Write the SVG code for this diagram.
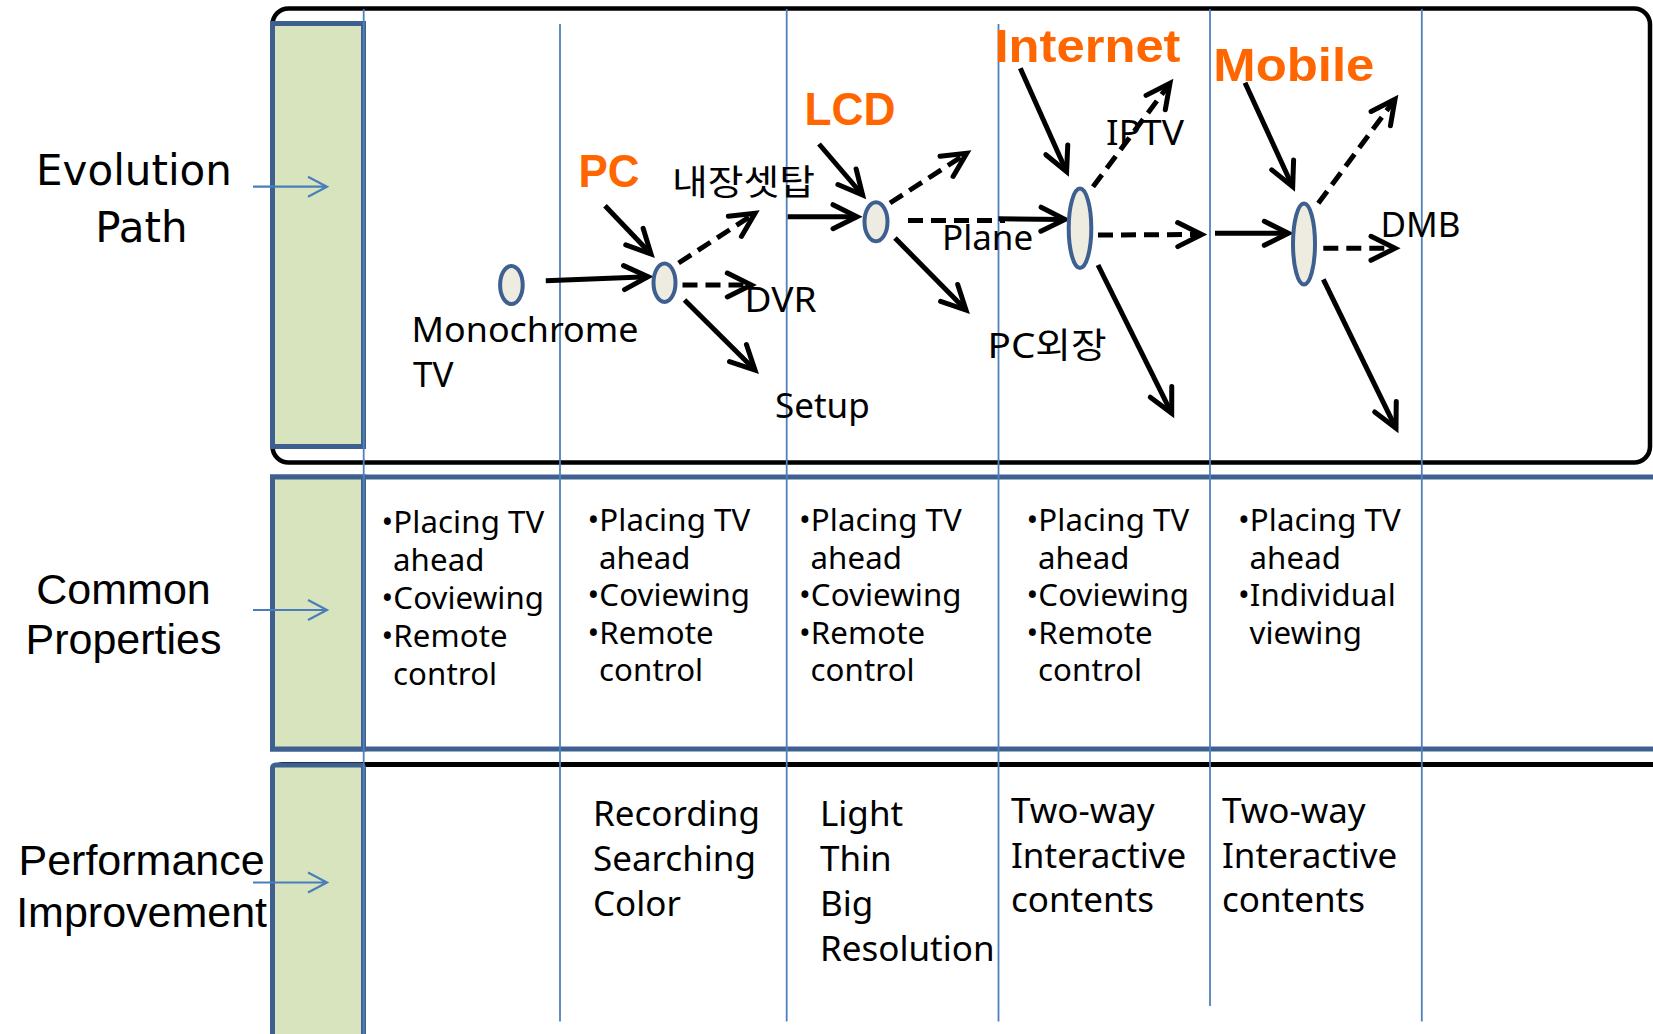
<svg xmlns="http://www.w3.org/2000/svg" width="1653" height="1034" viewBox="0 0 1653 1034">
<defs>
<style>
.frameB{fill:none;stroke:#000;stroke-width:4.5}
.frameU{fill:none;stroke:#3E6090;stroke-width:5}
.green{fill:#D7E4BD;stroke:#3E6090;stroke-width:5}
.vl{stroke:#4F81BD;stroke-width:1.8;fill:none}
.side{font-family:"Liberation Sans",Arial,sans-serif;font-size:43px;fill:#000}
.evo{font-family:"DejaVu Sans",sans-serif;font-size:42px;fill:#000}
.sarr{stroke:#4A7EBB;stroke-width:2.2;fill:none}
.lbl{font-family:"Noto Sans","Noto Sans CJK KR",sans-serif;font-size:35px;fill:#000}
.bul{font-family:"Noto Sans",sans-serif;font-size:31.2px;letter-spacing:0.1px;fill:#000}
.org{font-family:"Liberation Sans",Arial,sans-serif;font-weight:bold;font-size:47px;fill:#FF6600}
.node{fill:#EEECE1;stroke:#3E6090;stroke-width:4}
.sa{fill:none;stroke:#000;stroke-width:5;marker-end:url(#ah)}
.da{fill:none;stroke:#000;stroke-width:5;stroke-dasharray:15 8;marker-end:url(#ah)}
.dn{fill:none;stroke:#000;stroke-width:5;stroke-dasharray:15 8}
</style>
<marker id="ah" markerUnits="userSpaceOnUse" markerWidth="40" markerHeight="40" refX="0" refY="0" orient="auto" overflow="visible">
<path d="M-24,-12 L0,0 L-24,12" fill="none" stroke="#000" stroke-width="5" stroke-dasharray="none" stroke-linecap="round" stroke-linejoin="miter"/>
</marker>
</defs>
<rect width="1653" height="1034" fill="#fff"/>

<g id="row-evolution">
<rect class="frameB" x="272.5" y="8.5" width="1377.5" height="454" rx="16"/>
<rect class="green" x="272.5" y="23.5" width="91" height="423"/>
<text class="evo" text-anchor="middle"><tspan x="134" y="185">Evolution</tspan><tspan x="141.5" y="241.7">Path</tspan></text>
<path class="sarr" d="M253,186.7 L327,186.7 M308,176.7 L327,186.7 L308,196.7"/>
</g>

<g id="row-common">
<rect class="frameU" x="272.5" y="477" width="1450" height="272"/>
<rect class="green" x="272.5" y="477" width="91" height="272"/>
<text class="side" text-anchor="middle"><tspan x="123.5" y="603.5">Common</tspan><tspan x="123.5" y="653.5">Properties</tspan></text>
<path class="sarr" d="M253,610 L327,610 M308,600 L327,610 L308,620"/>
</g>

<g id="row-performance">
<rect class="frameB" x="272.5" y="764.5" width="1450" height="400" rx="10" style="stroke-width:5"/>
<rect class="green" x="272.5" y="765" width="91" height="320" rx="3"/>
<text class="side" text-anchor="middle"><tspan x="141.6" y="875">Performance</tspan><tspan x="141.6" y="926.5">Improvement</tspan></text>
<path class="sarr" d="M253,882.5 L327,882.5 M308,872.5 L327,882.5 L308,892.5"/>
</g>

<g id="column-lines">
<line class="vl" x1="363.7" y1="9" x2="363.7" y2="1034"/>
<line class="vl" x1="560" y1="24" x2="560" y2="1021.5"/>
<line class="vl" x1="786.7" y1="9" x2="786.7" y2="1021.5"/>
<line class="vl" x1="998.5" y1="24" x2="998.5" y2="1021.5"/>
<line class="vl" x1="1210" y1="9" x2="1210" y2="1006"/>
<line class="vl" x1="1421.8" y1="9" x2="1421.8" y2="1021.5"/>
</g>

<g id="connectors">
<path class="sa" d="M545.8,280.7 L648,276.7"/>
<path class="sa" d="M605,205.7 L651,254"/>
<path class="da" d="M678.6,263 L755,213.3"/>
<path class="da" d="M682.5,285 L751.3,285"/>
<path class="sa" d="M684.5,300 L755,370"/>
<path class="sa" d="M787.7,216.7 L857,216.7"/>
<path class="sa" d="M819,144 L862.6,195"/>
<path class="da" d="M890,203 L966.7,153.3"/>
<path class="dn" d="M908,220.5 L1005,220.5"/>
<path class="sa" d="M998.5,218.7 L1065,219.5"/>
<path class="sa" d="M895,238 L966,310"/>
<path class="sa" d="M1020.3,68.3 L1066.6,171.7"/>
<path class="da" d="M1093,186.7 L1170,83.3"/>
<path class="da" d="M1098,235 L1201.7,234.5"/>
<path class="sa" d="M1098,265 L1171.7,413.3"/>
<path class="sa" d="M1215,233.3 L1288.3,233.3"/>
<path class="sa" d="M1245,82.7 L1292.7,186.7"/>
<path class="da" d="M1318.3,203.3 L1395,99.3"/>
<path class="da" d="M1323.3,248.3 L1395,248.3"/>
<path class="sa" d="M1323.3,279.3 L1396,428.3"/>
</g>

<g id="node-monochrome">
<ellipse class="node" cx="511.4" cy="285" rx="11.3" ry="19"/>
<text class="lbl"><tspan x="411.5" y="341.7" textLength="227" lengthAdjust="spacingAndGlyphs">Monochrome</tspan><tspan x="413" y="386.7">TV</tspan></text>
</g>
<g id="node-pc">
<ellipse class="node" cx="664.5" cy="282.7" rx="11" ry="19.2"/>
<text class="org" x="578.5" y="186.7" textLength="61" lengthAdjust="spacingAndGlyphs">PC</text>
<text class="lbl" x="672" y="195" textLength="143" lengthAdjust="spacingAndGlyphs">내장셋탑</text>
<text class="lbl" x="744.5" y="311.7" textLength="72" lengthAdjust="spacingAndGlyphs">DVR</text>
<text class="lbl" x="775" y="418.3">Setup</text>
</g>
<g id="node-lcd">
<ellipse class="node" cx="876" cy="221.7" rx="11.5" ry="19.5"/>
<text class="org" x="804.5" y="125" textLength="91" lengthAdjust="spacingAndGlyphs">LCD</text>
<text class="lbl" x="942" y="250">Plane</text>
<text class="lbl" x="987.5" y="358.3" textLength="119" lengthAdjust="spacingAndGlyphs">PC외장</text>
</g>
<g id="node-internet">
<ellipse class="node" cx="1080" cy="228.3" rx="11.3" ry="39.7"/>
<text class="org" x="994.5" y="61.7" textLength="186" lengthAdjust="spacingAndGlyphs">Internet</text>
<text class="lbl" x="1106" y="145" textLength="78" lengthAdjust="spacingAndGlyphs">IPTV</text>
</g>
<g id="node-mobile">
<ellipse class="node" cx="1304" cy="244" rx="11" ry="40.5"/>
<text class="org" x="1213.3" y="81" textLength="161" lengthAdjust="spacingAndGlyphs">Mobile</text>
<text class="lbl" x="1380.5" y="236.7">DMB</text>
</g>

<g id="common-texts">
<text class="bul"><tspan x="381.5" y="533.3">•Placing TV</tspan><tspan x="393" y="571.1">ahead</tspan><tspan x="381.5" y="608.9">•Coviewing</tspan><tspan x="381.5" y="646.7">•Remote</tspan><tspan x="393" y="684.5">control</tspan></text>
<text class="bul"><tspan x="587.5" y="531">•Placing TV</tspan><tspan x="599" y="568.6">ahead</tspan><tspan x="587.5" y="606.2">•Coviewing</tspan><tspan x="587.5" y="643.8">•Remote</tspan><tspan x="599" y="681.4">control</tspan></text>
<text class="bul"><tspan x="799" y="531">•Placing TV</tspan><tspan x="810.5" y="568.6">ahead</tspan><tspan x="799" y="606.2">•Coviewing</tspan><tspan x="799" y="643.8">•Remote</tspan><tspan x="810.5" y="681.4">control</tspan></text>
<text class="bul"><tspan x="1026.5" y="531">•Placing TV</tspan><tspan x="1038" y="568.6">ahead</tspan><tspan x="1026.5" y="606.2">•Coviewing</tspan><tspan x="1026.5" y="643.8">•Remote</tspan><tspan x="1038" y="681.4">control</tspan></text>
<text class="bul"><tspan x="1238" y="531">•Placing TV</tspan><tspan x="1249.5" y="568.6">ahead</tspan><tspan x="1238" y="606.2">•Individual</tspan><tspan x="1249.5" y="643.8">viewing</tspan></text>
</g>

<g id="performance-texts">
<text class="lbl"><tspan x="593" y="826">Recording</tspan><tspan x="593" y="871">Searching</tspan><tspan x="593" y="916">Color</tspan></text>
<text class="lbl"><tspan x="820" y="826">Light</tspan><tspan x="820" y="871">Thin</tspan><tspan x="820" y="916">Big</tspan><tspan x="820" y="960.5">Resolution</tspan></text>
<text class="lbl"><tspan x="1011" y="823">Two-way</tspan><tspan x="1011" y="867.5">Interactive</tspan><tspan x="1011" y="912">contents</tspan></text>
<text class="lbl"><tspan x="1222" y="823">Two-way</tspan><tspan x="1222" y="867.5">Interactive</tspan><tspan x="1222" y="912">contents</tspan></text>
</g>
</svg>
